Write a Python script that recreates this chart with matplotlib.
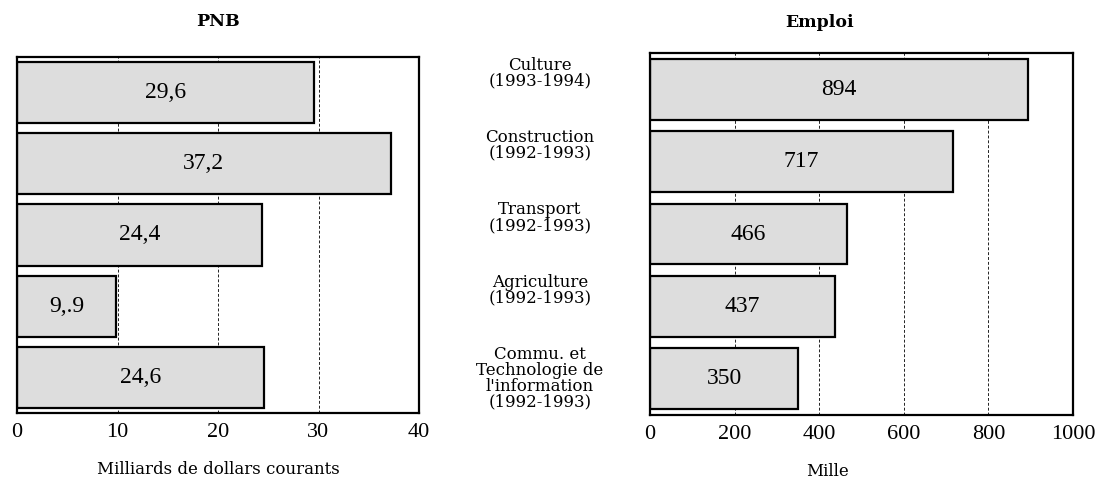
import matplotlib
matplotlib.use("Agg")
import matplotlib.pyplot as plt
import matplotlib.transforms as mtransforms

# ---- data ----
categories = ["Culture\n(1993-1994)",
              "Construction\n(1992-1993)",
              "Transport\n(1992-1993)",
              "Agriculture\n(1992-1993)",
              "Commu. et\nTechnologie de\nl'information\n(1992-1993)"]
pnb_values = [29.6, 37.2, 24.4, 9.9, 24.6]
pnb_labels = ["29,6", "37,2", "24,4", "9,.9", "24,6"]
emploi_values = [894, 717, 466, 437, 350]
emploi_labels = ["894", "717", "466", "437", "350"]
pnb_ticks = [0, 10, 20, 30, 40]
emploi_ticks = [0, 200, 400, 600, 800, 1000]
pnb_title = "PNB"
emploi_title = "Emploi"
pnb_xlabel = "Milliards de dollars courants"
emploi_xlabel = "Mille"

W, H = 1101, 482
fig = plt.figure(figsize=(W / 100, H / 100), dpi=100)

def ax_rect(l, r, t, b):
    return [l / W, 1 - b / H, (r - l) / W, (b - t) / H]

serif_tick = "Liberation Serif"
serif_wide = "DejaVu Serif"
bar_fc = "#dddddd"

def setup(ax, values, labels, ticks, bar_h):
    y = list(range(len(values)))
    ax.barh(y, values, height=bar_h, color=bar_fc, edgecolor="black",
            linewidth=1.6, zorder=3)
    for yi, v, lab in zip(y, values, labels):
        ax.text(v / 2, yi, lab, ha="center", va="center",
                fontfamily=serif_tick, fontsize=17, zorder=4)
    ax.set_xlim(ticks[0], ticks[-1])
    ax.set_ylim(len(values) - 0.5, -0.5)
    ax.set_xticks(ticks)
    ax.set_xticklabels([str(t) for t in ticks], fontfamily=serif_tick, fontsize=16)
    ax.tick_params(axis="x", length=0, pad=7)
    ax.set_yticks([])
    ax.grid(axis="x", color="#222222", linestyle=(0, (3, 2)), linewidth=0.7, zorder=1)
    for s in ax.spines.values():
        s.set_linewidth(1.6)
        s.set_zorder(5)

ax1 = fig.add_axes(ax_rect(17, 419, 57, 413))
setup(ax1, pnb_values, pnb_labels, pnb_ticks, 0.86)
ax1.set_title(pnb_title, fontfamily=serif_wide, fontweight="bold", fontsize=12.5, pad=22)
ax1.set_xlabel(pnb_xlabel, fontfamily=serif_wide, fontsize=12, labelpad=14)

ax2 = fig.add_axes(ax_rect(650, 1073, 53, 415))
setup(ax2, emploi_values, emploi_labels, emploi_ticks, 0.84)
ax2.set_title(emploi_title, fontfamily=serif_wide, fontweight="bold", fontsize=12.5,
              pad=19, x=0.40)
ax2.set_xlabel(emploi_xlabel, fontfamily=serif_wide, fontsize=12, labelpad=14, x=0.42)

trans = mtransforms.blended_transform_factory(ax2.transAxes, ax2.transData)
for i, cat in enumerate(categories):
    ax2.text(-0.26, i - 0.45, cat, transform=trans, ha="center", va="top",
             fontfamily=serif_wide, fontsize=12, linespacing=0.9,
             multialignment="center", clip_on=False)

fig.savefig("out.png", dpi=100)
